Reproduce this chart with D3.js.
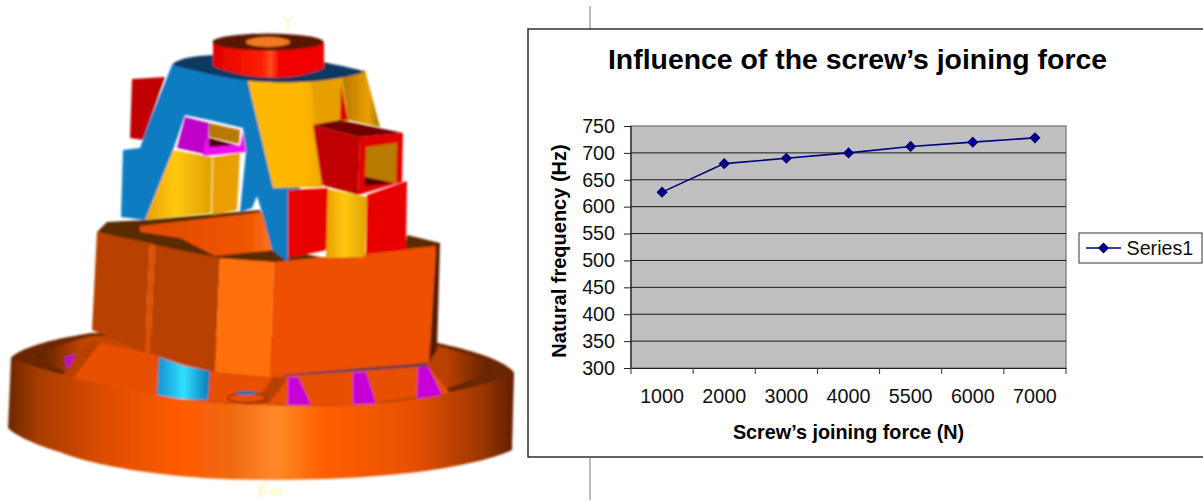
<!DOCTYPE html>
<html><head><meta charset="utf-8">
<script src="https://cdn.jsdelivr.net/npm/d3@7"></script>
<style>html,body{margin:0;padding:0;background:#fff;overflow:hidden}svg{display:block}text{font-family:"Liberation Sans",Arial,sans-serif}</style>
</head><body><svg id="c" width="1203" height="501"></svg>
<script>
const categories = ["1000","2000","3000","4000","5500","6000","7000"];
const seriesName = "Series1";
const seriesValues = [627,680,690,700,712,720,728];
const yTickValues = [300,350,400,450,500,550,600,650,700,750];
const chartTitle = "Influence of the screw\u2019s joining force";
const xTitle = "Screw\u2019s joining force (N)";
const yTitle = "Natural frequency (Hz)";

const svg = d3.select("#c");
const defs = svg.append("defs");
function grad(id, stops){
  const g = defs.append("linearGradient").attr("id",id);
  stops.forEach(s=>g.append("stop").attr("offset",s[0]).attr("stop-color",s[1]));
}
grad("gRing",[[0,"#6a2800"],[0.06,"#a83c00"],[0.2,"#e04e00"],[0.34,"#ff5a00"],[0.44,"#f06a10"],[0.53,"#ff8a2a"],[0.62,"#ff6000"],[0.8,"#e85000"],[0.93,"#a03800"],[1,"#602000"]]);
grad("gWell",[[0,"#5a2000"],[0.1,"#c04400"],[0.5,"#e85000"],[0.9,"#b84000"],[1,"#5a2000"]]);
grad("gRed",[[0,"#e00000"],[0.45,"#ff2000"],[0.52,"#ff5020"],[0.6,"#f00000"],[1,"#f00000"]]);
grad("gYel",[[0,"#e8a000"],[0.45,"#ffc810"],[1,"#e0a000"]]);
grad("gYel2",[[0,"#ffb800"],[0.7,"#ffb800"],[1,"#f0a800"]]);
grad("gBrn",[[0,"#b87800"],[0.7,"#e8a000"],[1,"#a87000"]]);
grad("gBlue",[[0,"#1090d0"],[0.5,"#30e0ff"],[1,"#0878b8"]]);
grad("gOrg",[[0,"#e04c00"],[0.8,"#f05400"],[1,"#ff7a20"]]);
defs.append("filter").attr("id","soft").append("feGaussianBlur").attr("stdDeviation",0.9);

/* ---------- 3D model illustration ---------- */
const art = svg.append("g").attr("filter","url(#soft)");
art.append("path").attr("fill","url(#gRing)").attr("d","M11,358 C22,346 60,338 92,333 L437,343 C470,350 505,360 514,373 L512,450 C480,465 400,480 267,480 C170,480 90,465 60,452 C35,445 15,435 8,428 Z");
art.append("path").attr("fill","#6a2800").attr("d","M11,358 C22,346 60,338 92,333 L437,343 C470,350 505,360 514,373 C505,380 440,398 367,404 C320,407 260,406 207,402 C140,392 60,378 11,358 Z");
art.append("path").attr("fill","url(#gWell)").attr("d","M37,357 C50,347 75,340 92,336 L437,346 C460,352 485,358 493,368 C480,380 430,396 367,404 C320,407 260,406 207,402 C140,392 65,378 37,357 Z");

const polys = [
 ["#b84000",[[92,340],[100,343],[73,378],[62,375]]],
 ["#e85000",[[100,343],[157,355],[158,396],[73,378]]],
 ["#e85000",[[210,373],[282,376],[265,403],[208,400]]],
 ["#e85000",[[282,375],[427,365],[450,393],[367,404],[267,405]]],
 ["#b84000",[[273,377],[288,378],[268,404],[255,403]]],
 ["#c800d8",[[288,377],[298,377],[311,405],[288,405]]],
 ["#c800d8",[[353,372],[366,372],[376,404],[353,404]]],
 ["#c800d8",[[418,367],[428,366],[442,395],[417,399]]],
 ["#c800d8",[[65,357],[76,355],[67,369]]],
 ["url(#gBlue)",[[159,357],[185,366],[210,371],[208,400],[180,399],[157,395]]],
 ["#103860",[[282,374],[427,364],[427,366],[282,376]]],
 /* orange housing */
 ["#5a2c00",[[97,232],[107,222],[145,220],[260,210],[285,250],[325,258],[405,250],[407,235],[440,243],[438,253],[325,264],[220,260],[150,245]]],
 ["url(#gOrg)",[[140,226],[263,212],[275,250],[215,256],[180,238],[140,232]]],
 ["#b84000",[[97,232],[150,243],[145,353],[92,330]]],
 ["#e05000",[[150,243],[155,245],[150,353],[145,353]]],
 ["#b84000",[[155,245],[220,258],[215,372],[150,353]]],
 ["#ff7010",[[220,258],[274,262],[270,377],[215,372]]],
 ["#ee5000",[[274,262],[436,246],[429,362],[283,375],[270,377]]],
 ["#5a1a00",[[436,246],[440,243],[437,350],[429,362]]],
 /* back parts */
 ["#c00000",[[132,79],[165,77],[143,140],[130,138]]],
 ["url(#gYel)",[[173,150],[212,157],[211,213],[145,220]]],
 ["#e8a000",[[213,157],[240,153],[237,210],[212,215]]],
 ["#0a7cc0",[[172,65],[247,78],[290,90],[300,190],[288,262],[272,250],[262,212],[257,196],[252,208],[240,212],[246,152],[243,128],[209,120],[185,115],[173,150],[145,220],[121,217],[123,150],[140,148],[150,120]]],
 ["#c000c8",[[185,117],[209,123],[208,155],[177,148]]],
 ["#f010f0",[[208,138],[240,146],[243,132],[246,152],[203,156],[205,140]]],
 ["#b87800",[[209,123],[240,130],[239,144],[209,137]]],
 ["#4a0000",[[209,138],[235,145],[209,147]]],
 /* yellow panels */
 ["url(#gYel2)",[[247,78],[310,78],[323,187],[273,188]]],
 ["#e8a000",[[310,78],[342,76],[348,122],[315,125]]],
 ["url(#gBrn)",[[342,76],[365,70],[380,127],[348,120]]],
 ["#e00000",[[341,85],[348,120],[340,120]]],
 /* red boxes */
 ["#e80000",[[288,190],[328,188],[327,250],[288,258]]],
 ["url(#gYel)",[[328,189],[367,197],[365,257],[326,258]]],
 ["#e80000",[[367,195],[407,181],[406,250],[366,254]]],
 ["#c8a000",[[335,122],[370,127],[350,132]]],
 ["#c00000",[[313,125],[360,137],[358,195],[322,185]]],
 ["#700000",[[313,125],[340,120],[403,133],[360,137]]],
 ["#e00000",[[360,137],[403,133],[402,182],[358,195]]],
 ["#b87a00",[[366,147],[397,143],[396,183],[365,177]]],
 ["#4a0000",[[365,177],[392,183],[365,186]]]
];
art.selectAll("polygon.m").data(polys).join("polygon").attr("class","m")
  .attr("fill",d=>d[0]).attr("points",d=>d[1].map(p=>p.join(",")).join(" "));
art.append("ellipse").attr("cx",247).attr("cy",398).attr("rx",19).attr("ry",5).attr("fill","#e85000").attr("stroke","#5a2000").attr("stroke-width",1.2);
art.append("path").attr("fill","#0a70a8").attr("d","M235,393 C240,390 252,390 259,393 L250,395 L240,395 Z");
art.append("path").attr("fill","#103860").attr("d","M172,65 C178,58 195,56 213,55 L324,62 C340,66 355,68 365,72 C340,80 300,84 270,82 C240,82 205,73 172,65 Z");
art.append("path").attr("fill","url(#gRed)").attr("d","M213,42 L213,66 C240,78 290,84 324,68 L324,42 Z");
art.append("ellipse").attr("cx",268).attr("cy",42).attr("rx",55.5).attr("ry",8.5).attr("fill","#5a1800");
art.append("ellipse").attr("cx",268).attr("cy",42).attr("rx",22).attr("ry",5).attr("fill","#f07a20");
art.append("text").attr("x",288).attr("y",29).attr("text-anchor","middle").attr("font-size",18).attr("fill","#fbf3b0").text("Y");
art.append("text").attr("x",258).attr("y",497).attr("font-size",17).attr("fill","#fbf3a0").text("F=r");

/* ---------- page rule behind the chart ---------- */
svg.append("line").attr("x1",590).attr("x2",590).attr("y1",6).attr("y2",29).attr("stroke","#bdbdbd").attr("stroke-width",2);
svg.append("line").attr("x1",590).attr("x2",590).attr("y1",458).attr("y2",500).attr("stroke","#bdbdbd").attr("stroke-width",2);

/* ---------- chart ---------- */
svg.append("rect").attr("x",528).attr("y",29).attr("width",680).attr("height",428).attr("fill","#fff").attr("stroke","#222").attr("stroke-width",1.4);

const plot = {l:631,r:1066,t:126,b:368};
const x = d3.scaleBand().domain(categories).range([plot.l,plot.r]);
const y = d3.scaleLinear().domain([300,750]).range([plot.b,plot.t]);

svg.append("rect").attr("x",plot.l).attr("y",plot.t).attr("width",plot.r-plot.l).attr("height",plot.b-plot.t)
  .attr("fill","#c0c0c0").attr("stroke","#808080").attr("stroke-width",1.4);

const yAxis = d3.axisLeft(y).tickValues(yTickValues).tickSize(7).tickPadding(9).tickFormat(d3.format("d"));
const gy = svg.append("g").attr("transform",`translate(${plot.l},0)`).call(yAxis);
gy.select(".domain").attr("stroke","#333").attr("stroke-width",1.4).attr("d",`M0,${plot.t}V${plot.b}`);
gy.selectAll(".tick line").attr("stroke","#222");
gy.selectAll("text").attr("font-size",19.7).attr("font-family",'"Liberation Sans"').attr("fill","#111");

svg.append("g").selectAll("line").data(yTickValues.filter(v=>v>300&&v<750)).join("line")
  .attr("x1",plot.l).attr("x2",plot.r).attr("y1",d=>y(d)).attr("y2",d=>y(d)).attr("stroke","#1a1a1a").attr("stroke-width",1);

const xAxis = d3.axisBottom(x).tickSize(0).tickPadding(21);
const gx = svg.append("g").attr("transform",`translate(0,${plot.b})`).call(xAxis);
gx.select(".domain").attr("stroke","#222").attr("stroke-width",1.2);
gx.selectAll("text").attr("font-size",19.7).attr("font-family",'"Liberation Sans"').attr("fill","#111");
svg.append("g").selectAll("line").data(d3.range(categories.length+1)).join("line")
  .attr("x1",i=>plot.l+i*x.step()).attr("x2",i=>plot.l+i*x.step()).attr("y1",plot.b).attr("y2",plot.b+6).attr("stroke","#333");

const line = d3.line().x((d,i)=>x(categories[i])+x.bandwidth()/2).y(d=>y(d));
svg.append("path").attr("d",line(seriesValues)).attr("fill","none").attr("stroke","#000080").attr("stroke-width",1.6);
const diamondPath = "M0,-5.6L5.6,0L0,5.6L-5.6,0Z";
svg.append("g").selectAll("path").data(seriesValues).join("path").attr("d",diamondPath).attr("fill","#000080")
  .attr("transform",(d,i)=>`translate(${x(categories[i])+x.bandwidth()/2},${y(d)})`);

svg.append("text").attr("x",857.5).attr("y",69).attr("text-anchor","middle").attr("font-size",28.4).attr("font-weight","bold").attr("fill","#000").text(chartTitle);
svg.append("text").attr("x",848.5).attr("y",439).attr("text-anchor","middle").attr("font-size",19.8).attr("font-weight","bold").attr("fill","#000").text(xTitle);
svg.append("text").attr("transform","translate(566,251) rotate(-90)").attr("text-anchor","middle").attr("font-size",20).attr("font-weight","bold").attr("fill","#000").text(yTitle);

/* legend */
svg.append("rect").attr("x",1079).attr("y",233).attr("width",123).attr("height",30).attr("fill","#fff").attr("stroke","#333").attr("stroke-width",1);
svg.append("line").attr("x1",1086).attr("x2",1121).attr("y1",248).attr("y2",248).attr("stroke","#000080").attr("stroke-width",1.6);
svg.append("path").attr("d",diamondPath).attr("fill","#000080").attr("transform","translate(1103.5,248)");
svg.append("text").attr("x",1126.5).attr("y",255).attr("font-size",19.7).attr("fill","#111").text(seriesName);
</script></body></html>
